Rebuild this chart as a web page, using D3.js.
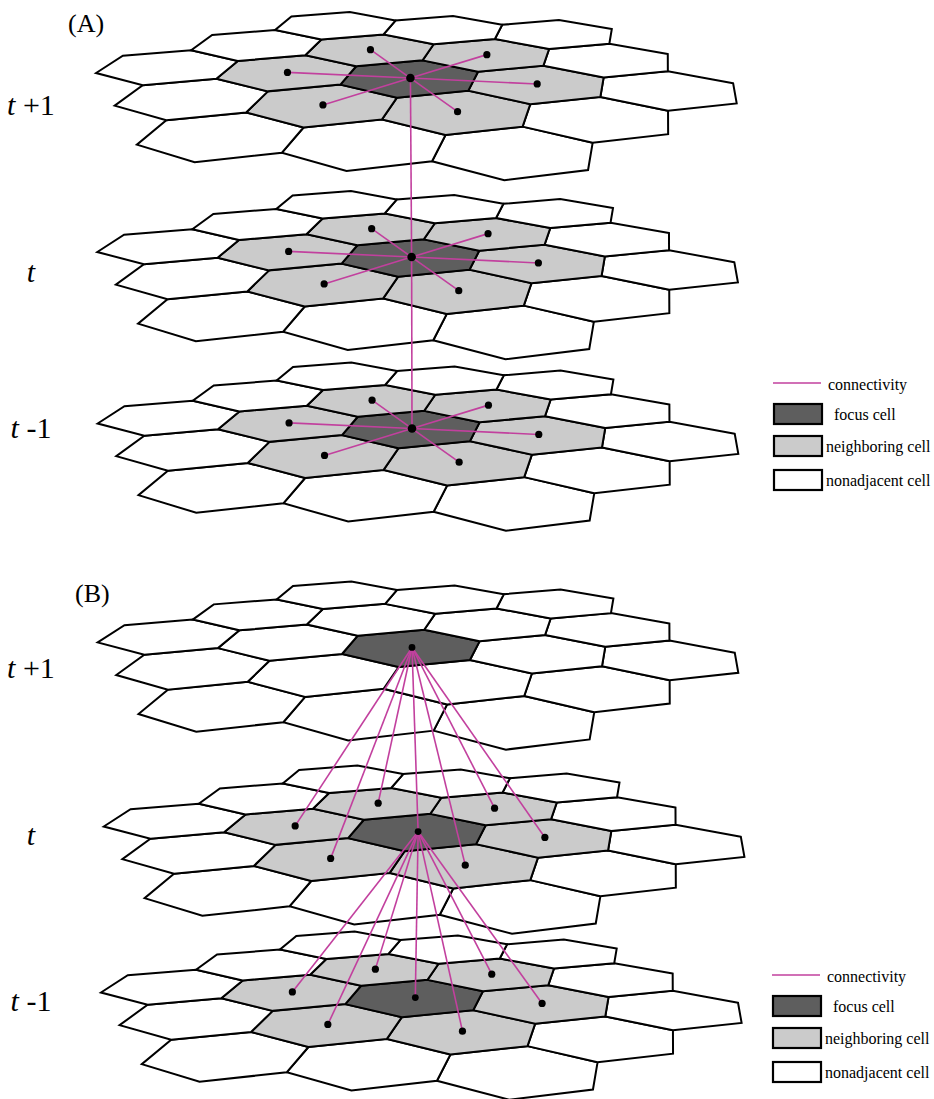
<!DOCTYPE html>
<html>
<head>
<meta charset="utf-8">
<script src="https://cdn.jsdelivr.net/npm/d3@7/dist/d3.min.js"></script>
<style>
  body { margin: 0; background: #fff; }
  svg { display: block; }
</style>
</head>
<body>
<div id="chart"></div>
<script>
// ---- data ----
// radius-2 hexagonal grid, axial coordinates (q, r)
var cells = [
  [0, -2], [1, -2], [2, -2],
  [-1, -1], [0, -1], [1, -1], [2, -1],
  [-2, 0], [-1, 0], [0, 0], [1, 0], [2, 0],
  [-2, 1], [-1, 1], [0, 1], [1, 1],
  [-2, 2], [-1, 2], [0, 2]
];
var focusCell = [0, 0];
var panels = ["(A)", "(B)"];
var timeSuffix = ["+1", "", "-1"];           // written after the italic t
var shadeNeighbors = [[true, true, true], [false, true, true]];
var connectMode = ["within", "across"];      // panel A: inside each slice, panel B: slice to next slice
var legendLabels = ["connectivity", "focus cell", "neighboring cell", "nonadjacent cell"];
var legendKinds = ["line", "focus", "neighbor", "nonadjacent"];

// ---- layout ----
var W = 934, H = 1099;
var S3 = Math.sqrt(3);
// hex-plane point -> screen point, measured on the top slice of panel A
var calib = [
  [-4, S3, 96, 74], [-3.5, 1.5 * S3, 123.3, 56], [-2.5, 1.5 * S3, 191.7, 50.7],
  [-2, S3, 236.7, 60], [-2.5, 0.5 * S3, 218.3, 79], [-3.5, 0.5 * S3, 141.7, 85],
  [-4, 0, 114.3, 105], [-4, -S3, 136.7, 144.3], [-3.5, -1.5 * S3, 193.3, 161.7],
  [-2.5, -1.5 * S3, 283.3, 152.7], [-2, -S3, 303.3, 127.7], [-2.5, -0.5 * S3, 246.7, 112.7],
  [-1, 0, 341.7, 84.3], [-0.5, 0.5 * S3, 355, 66.7], [0.5, 0.5 * S3, 423.3, 61],
  [1, 0, 476.7, 71.7], [0.5, -0.5 * S3, 468.3, 91], [-0.5, -0.5 * S3, 397.3, 97.7],
  [2, 0, 543.3, 66], [2.5, 0.5 * S3, 548.3, 48.3], [3.5, 0.5 * S3, 610, 43.3],
  [4, 0, 668.3, 54.3], [3.5, -0.5 * S3, 668.3, 70.7], [2.5, -0.5 * S3, 603.3, 77.7],
  [4, -S3, 732.7, 83.3], [3.5, -1.5 * S3, 736.7, 104], [2.5, -1.5 * S3, 668.3, 111],
  [2, -S3, 600, 96.7], [4, S3, 611.7, 29], [-1, 2 * S3, 275, 29.3],
  [-2, 2 * S3, 211.7, 35], [-0.5, 2.5 * S3, 291.7, 16.7]
];
// shift of every slice relative to the calibrated one
var sliceShift = [
  [[0, 0], [1.2, 179], [1.6, 350.5]],
  [[1.6, 569.4], [7.7, 753.5], [4.9, 919.5]]
];
var panelLabelPos = [[68, 32], [75, 602]];
var timeLabelY = [[115, 282, 438], [678, 845, 1011]];
var legendPos = [[773, 383], [772, 975]];

var colors = { focus: "#5e5e5e", neighbor: "#cbcbcb", nonadjacent: "#ffffff", link: "#c2409e" };

// least squares homography (8 params) on normalised screen coords
function fitHomography(pts) {
  var n = 8, N = [];
  for (var i = 0; i < n; i++) N.push(new Array(n + 1).fill(0));
  pts.forEach(function (p) {
    var x = p[0], y = p[1], X = (p[2] - 400) / 100, Y = (p[3] - 80) / 100;
    var rows = [[x, y, 1, 0, 0, 0, -x * X, -y * X, X], [0, 0, 0, x, y, 1, -x * Y, -y * Y, Y]];
    rows.forEach(function (r) {
      for (var i = 0; i < n; i++) {
        for (var j = 0; j < n; j++) N[i][j] += r[i] * r[j];
        N[i][n] += r[i] * r[n];
      }
    });
  });
  for (var i = 0; i < n; i++) {
    var piv = i;
    for (var r = i + 1; r < n; r++) if (Math.abs(N[r][i]) > Math.abs(N[piv][i])) piv = r;
    var tmp = N[i]; N[i] = N[piv]; N[piv] = tmp;
    for (var r = 0; r < n; r++) {
      if (r === i) continue;
      var f = N[r][i] / N[i][i];
      for (var c = i; c <= n; c++) N[r][c] -= f * N[i][c];
    }
  }
  return N.map(function (row, i) { return row[n] / row[i]; });
}
var Hm = fitHomography(calib);

function project(x, y, shift) {
  var w = Hm[6] * x + Hm[7] * y + 1;
  return [
    (Hm[0] * x + Hm[1] * y + Hm[2]) / w * 100 + 400 + shift[0],
    (Hm[3] * x + Hm[4] * y + Hm[5]) / w * 100 + 80 + shift[1]
  ];
}
function hexCenter(c) { return [1.5 * c[0], S3 * (c[1] + c[0] / 2)]; }
function hexDist(a, b) {
  var dq = a[0] - b[0], dr = a[1] - b[1];
  return (Math.abs(dq) + Math.abs(dr) + Math.abs(dq + dr)) / 2;
}
function cellKind(c, shade) {
  var d = hexDist(c, focusCell);
  if (d === 0) return "focus";
  if (d === 1 && shade) return "neighbor";
  return "nonadjacent";
}

var fill = d3.scaleOrdinal().domain(["focus", "neighbor", "nonadjacent"])
  .range([colors.focus, colors.neighbor, colors.nonadjacent]);
var hexLine = d3.line().curve(d3.curveLinearClosed);

var svg = d3.select("#chart").append("svg")
  .attr("width", W).attr("height", H)
  .style("font-family", "'Liberation Serif', 'Times New Roman', serif");

var neighbors = cells.filter(function (c) { return hexDist(c, focusCell) === 1; });

panels.forEach(function (label, p) {
  var g = svg.append("g").attr("class", "panel");

  // slices
  sliceShift[p].forEach(function (shift, s) {
    var cellData = cells.map(function (c) {
      var ctr = hexCenter(c);
      var pts = d3.range(6).map(function (k) {
        var a = k * Math.PI / 3;
        return project(ctr[0] + Math.cos(a), ctr[1] + Math.sin(a), shift);
      });
      return { kind: cellKind(c, shadeNeighbors[p][s]), pts: pts };
    });
    g.append("g").selectAll("path")
      .data(cellData)
      .enter().append("path")
      .attr("d", function (d) { return hexLine(d.pts); })
      .attr("fill", function (d) { return fill(d.kind); })
      .attr("stroke", "#000")
      .attr("stroke-width", 2)
      .attr("stroke-linejoin", "miter");
  });

  // connectivity
  var links = [], dots = [];
  var fc = hexCenter(focusCell);
  sliceShift[p].forEach(function (shift, s) {
    var from = project(fc[0], fc[1], shift);
    if (connectMode[p] === "within") {
      neighbors.forEach(function (c) {
        var h = hexCenter(c);
        links.push([from, project(h[0], h[1], shift)]);
        dots.push({ pt: project(h[0], h[1], shift), r: 3.6 });
      });
      if (s < sliceShift[p].length - 1) links.push([from, project(fc[0], fc[1], sliceShift[p][s + 1])]);
      dots.push({ pt: from, r: 4.3 });
    } else {
      if (s < sliceShift[p].length - 1) {
        var next = sliceShift[p][s + 1];
        links.push([from, project(fc[0], fc[1], next)]);
        neighbors.forEach(function (c) {
          var h = hexCenter(c);
          links.push([from, project(h[0], h[1], next)]);
        });
      }
      if (shadeNeighbors[p][s]) {
        neighbors.forEach(function (c) {
          var h = hexCenter(c);
          dots.push({ pt: project(h[0], h[1], shift), r: 3.6 });
        });
      }
      dots.push({ pt: from, r: 3.4 });
    }
  });

  g.append("g").selectAll("line")
    .data(links)
    .enter().append("line")
    .attr("x1", function (d) { return d[0][0]; })
    .attr("y1", function (d) { return d[0][1]; })
    .attr("x2", function (d) { return d[1][0]; })
    .attr("y2", function (d) { return d[1][1]; })
    .attr("stroke", colors.link)
    .attr("stroke-width", 1.6);

  g.append("g").selectAll("circle")
    .data(dots)
    .enter().append("circle")
    .attr("cx", function (d) { return d.pt[0]; })
    .attr("cy", function (d) { return d.pt[1]; })
    .attr("r", function (d) { return d.r; })
    .attr("fill", "#000");

  // panel label
  g.append("text")
    .attr("x", panelLabelPos[p][0])
    .attr("y", panelLabelPos[p][1])
    .attr("font-size", "26px")
    .text(label);

  // time labels
  timeSuffix.forEach(function (suf, s) {
    var t = g.append("text")
      .attr("x", 31)
      .attr("y", timeLabelY[p][s])
      .attr("font-size", "30px")
      .attr("text-anchor", "middle");
    t.append("tspan").attr("font-style", "italic").text("t");
    if (suf) t.append("tspan").text(" " + suf);
  });

  // legend
  var lx = legendPos[p][0], ly = legendPos[p][1];
  var lg = g.append("g").attr("transform", "translate(" + lx + "," + ly + ")");
  var rowRect = [0, 21, 53, 87];
  var rowText = [7, 37, 69, 103];
  var textX = [55, 61, 53, 53];
  legendLabels.forEach(function (lab, i) {
    var kind = legendKinds[i];
    if (kind === "line") {
      lg.append("line").attr("x1", 0).attr("x2", 48).attr("y1", 0).attr("y2", 0)
        .attr("stroke", colors.link).attr("stroke-width", 1.6);
    } else {
      lg.append("rect").attr("x", 1).attr("y", rowRect[i]).attr("width", 48).attr("height", 20)
        .attr("fill", fill(kind)).attr("stroke", "#000").attr("stroke-width", 2.2);
    }
    lg.append("text").attr("x", textX[i]).attr("y", rowText[i])
      .attr("font-size", "16px").text(lab);
  });
});
</script>
</body>
</html>
